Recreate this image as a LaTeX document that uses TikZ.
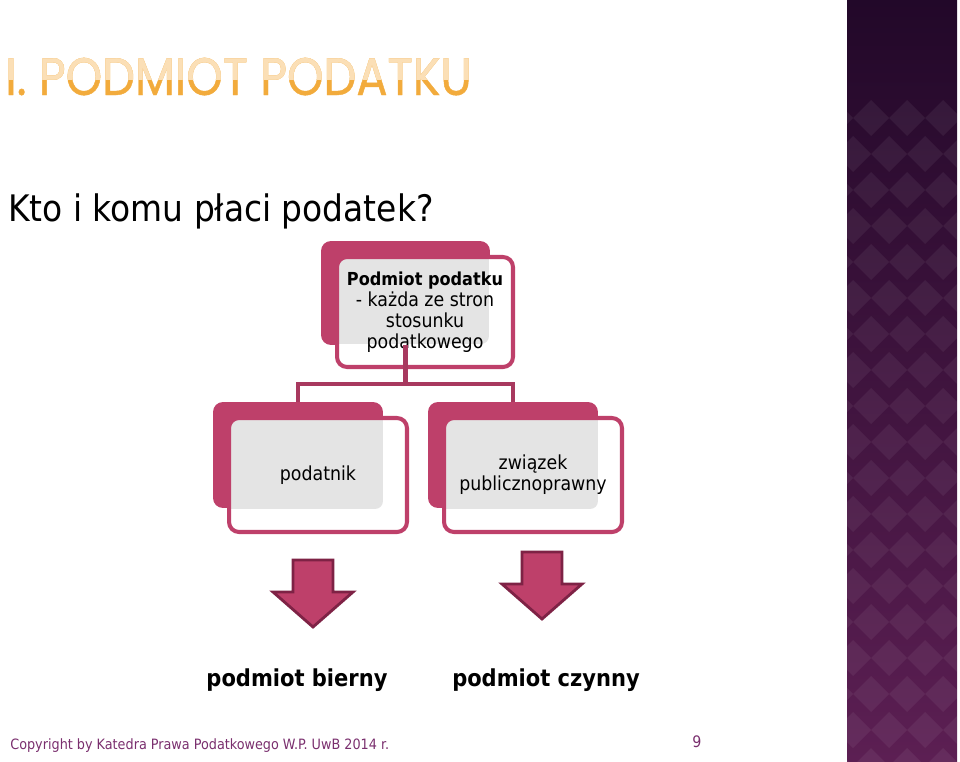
\documentclass[tikz,border=0pt]{standalone}
\usepackage{fontspec}
\setmainfont{DejaVu Sans Condensed}
\newfontfamily\titlefont[FakeStretch=0.88, FakeBold=0.8]{Poppins}
\usepackage{tikz}
\usetikzlibrary{calc}
\definecolor{boxmag}{HTML}{BE406A}
\definecolor{linkmag}{HTML}{A8395F}
\definecolor{arrowedge}{HTML}{7E2245}
\definecolor{padgray}{HTML}{E4E4E4}
\definecolor{titlelow}{HTML}{F2AB3C}
\definecolor{titlehigh}{HTML}{FBDFB6}
\definecolor{footpurple}{HTML}{7A2F6E}
\definecolor{striptop}{HTML}{220829}
\definecolor{stripbot}{HTML}{5C1F53}

\begin{document}
\begin{tikzpicture}[
 x=0.02cm, y=-0.02cm,
 backbox/.style={fill=boxmag, rounded corners=0.2cm, minimum width=3.4cm, minimum height=2.12cm, inner sep=0},
 frontbox/.style={draw=boxmag, line width=2.3pt, fill=white, rounded corners=0.2cm,
   minimum width=3.56cm, minimum height=2.28cm, align=center, font=\fontsize{11}{12}\selectfont,
   path picture={\fill[padgray, rounded corners=0.16cm]
     ($(path picture bounding box.north west)+(-16,-16)$) rectangle
     ($(path picture bounding box.south east)+(-24,-23)$);}},
 link/.style={draw=linkmag, line width=2.3pt},
 blockarrow/.style={fill=boxmag, draw=arrowedge, line width=1.6pt, line join=miter},
 side/.style={font=\fontsize{13.3}{16}\selectfont\bfseries, anchor=base},
]
 \useasboundingbox (0,0) rectangle (960,761);
 %
 \begin{scope}
  \clip (847,0) rectangle (957,761);
  \shade[top color=striptop, bottom color=stripbot] (847,0) rectangle (957,761);
  \foreach \r in {0,...,19}{
   \foreach \c in {0,...,4}{
    \fill[white, opacity=0.06] ({835+\c*36+mod(\r,2)*18},{100+\r*36}) -- ++(18,18) -- ++(-18,18) -- ++(-18,-18) -- cycle;
   }
  }
 \end{scope}
 %
 \node[font=\titlefont\fontsize{30}{30}\selectfont, text=titlelow, anchor=base west, inner sep=0] (title) at (5,95) {I. PODMIOT PODATKU};
 \begin{scope}
  \clip (0,40) rectangle (500,79);
  \node[font=\titlefont\fontsize{30}{30}\selectfont, text=titlehigh, anchor=base west, inner sep=0] (titletop) at (5,95) {I. PODMIOT PODATKU};
 \end{scope}
 \node[font=\fontsize{20.8}{24}\selectfont, anchor=base west, inner sep=0] (question) at (8,221) {Kto i komu płaci podatek?};

 %
 \node[backbox, minimum width=3.38cm, minimum height=2.08cm] (topback) at (405.5,293) {};
 \node[frontbox, minimum width=3.52cm, minimum height=2.2cm] (top) at (425,312)
  {{\fontsize{10.2}{12}\selectfont\bfseries Podmiot podatku}\\- każda ze stron\\stosunku\\podatkowego};

 \node[backbox] (leftback) at (298,455) {};
 \node[frontbox] (payer) at (318,475) {podatnik};

 \node[backbox] (rightback) at (513,455) {};
 \node[frontbox] (union) at (533,475) {związek\\publicznoprawny};

 \coordinate (split) at (405.5,384);
 \draw[link] (topback.south) -- (split);
 \draw[link] (split) -| (leftback.north);
 \draw[link] (split) -| (rightback.north);

 %
 \foreach \cx/\ty in {313/560, 542/552}{
  \draw[blockarrow] (\cx-20,\ty) -- ++(40,0) -- ++(0,32) -- ++(20,0) -- ++(-40,35) -- ++(-40,-35) -- ++(20,0) -- cycle;
 }
 \node[side] (passive) at (297,686) {podmiot bierny};
 \node[side] (active) at (546,686) {podmiot czynny};

 %
 \node[font=\fontsize{8.1}{10}\selectfont, text=footpurple, anchor=base west, inner sep=0] (copy) at (10,749) {Copyright by Katedra Prawa Podatkowego W.P. UwB 2014 r.};
 \node[font=\fontsize{9}{10}\selectfont, text=footpurple, anchor=base, inner sep=0] (page) at (697,747) {9};
\end{tikzpicture}
\end{document}
